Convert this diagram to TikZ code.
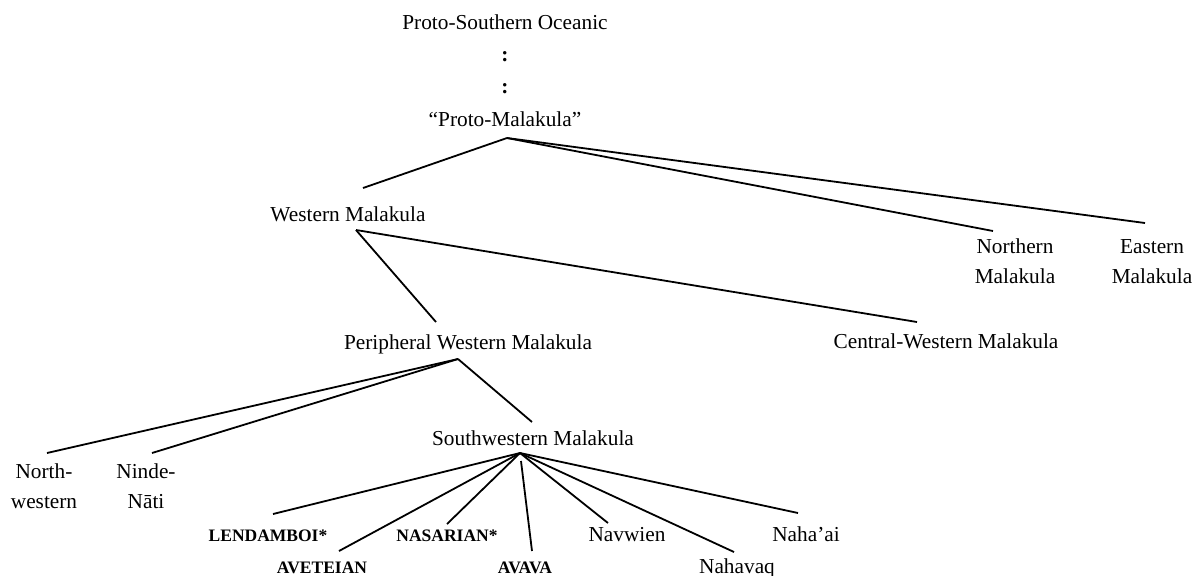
\documentclass[tikz,border=0pt]{standalone}
\usepackage{fontspec}
\setmainfont{Liberation Serif}
\tikzset{
  fam/.style={font=\fontsize{10.65}{15}\selectfont, align=center, anchor=base, inner sep=0pt},
  lang/.style={font=\fontsize{8.75}{10}\selectfont\bfseries, anchor=base, inner sep=0pt},
  branch/.style={line width=0.9pt},
}
\begin{document}
\begin{tikzpicture}[x=0.5pt, y=-0.5pt]
\useasboundingbox (0,0) rectangle (1193,575);
% Top of the tree
\node[fam] (pso) at (505,29) {Proto-Southern Oceanic};
\node[fam, font=\fontsize{10.65}{15}\selectfont\bfseries] (dotsA) at (505,61) {:};
\node[fam, font=\fontsize{10.65}{15}\selectfont\bfseries] (dotsB) at (505,93) {:};
\node[fam] (pm) at (505,126) {“Proto-Malakula”};
% First split (two-line nodes sit on their last line)
\node[fam] (wm) at (348,221) {Western Malakula};
\node[fam] (nm) at (1015,283) {Northern\\Malakula};
\node[fam] (em) at (1152,283) {Eastern\\Malakula};
% Western Malakula
\node[fam] (pwm) at (468,349) {Peripheral Western Malakula};
\node[fam] (cwm) at (946,348) {Central-Western Malakula};
% Peripheral Western Malakula
\node[fam] (nw) at (44,508) {North-\\western};
\node[fam] (nn) at (146,508) {Ninde-\\Nāti};
\node[fam] (swm) at (533,445) {Southwestern Malakula};
% Southwestern Malakula languages
\node[lang] (len) at (268,541) {LENDAMBOI*};
\node[lang] (ave) at (322,573) {AVETEIAN};
\node[lang] (nas) at (447,541) {NASARIAN*};
\node[lang] (ava) at (525,573) {AVAVA};
\node[fam] (nav) at (627,541) {Navwien};
\node[fam] (naq) at (737,573) {Nahavaq};
\node[fam] (nai) at (806,541) {Naha’ai};
% Branch points
\coordinate (pmJ) at ([shift={(2,12)}]pm.base);
\coordinate (wmJ) at ([shift={(8,9)}]wm.base);
\coordinate (pwmJ) at ([shift={(-10,10)}]pwm.base);
\coordinate (swmJ) at ([shift={(-13,8)}]swm.base);
% Branches
\draw[branch] (pmJ) -- ([shift={(15,-33)}]wm.base);
\draw[branch] (pmJ) -- ([shift={(-22,-52)}]nm.base);
\draw[branch] (pmJ) -- ([shift={(-7,-60)}]em.base);
\draw[branch] (wmJ) -- ([shift={(-32,-27)}]pwm.base);
\draw[branch] (wmJ) -- ([shift={(-29,-26)}]cwm.base);
\draw[branch] (pwmJ) -- ([shift={(3,-55)}]nw.base);
\draw[branch] (pwmJ) -- ([shift={(6,-55)}]nn.base);
\draw[branch] (pwmJ) -- ([shift={(-1,-23)}]swm.base);
\draw[branch] (swmJ) -- ([shift={(5,-27)}]len.base);
\draw[branch] (swmJ) -- ([shift={(17,-22)}]ave.base);
\draw[branch] (swmJ) -- ([shift={(0,-17)}]nas.base);
\draw[branch] ([shift={(1,8)}]swmJ) -- ([shift={(7,-22)}]ava.base);
\draw[branch] (swmJ) -- ([shift={(-19,-18)}]nav.base);
\draw[branch] (swmJ) -- ([shift={(-3,-21)}]naq.base);
\draw[branch] (swmJ) -- ([shift={(-8,-28)}]nai.base);
\end{tikzpicture}
\end{document}
